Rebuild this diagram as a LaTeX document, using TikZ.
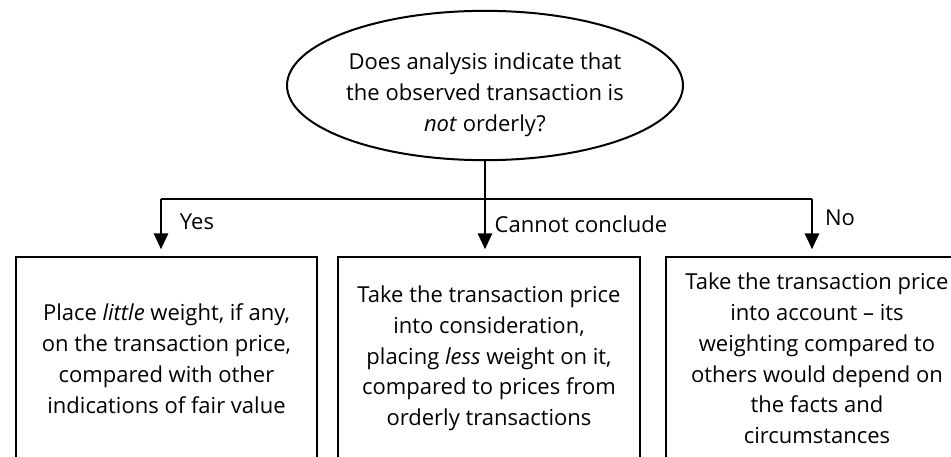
\documentclass[tikz,border=0pt]{standalone}
\usepackage{fontspec}
\setmainfont{Open Sans}
\usepackage{tikz}
\usetikzlibrary{shapes}
\usetikzlibrary{arrows.meta}
\usetikzlibrary{positioning}
\tikzstyle{question}=[ellipse,draw,line width=1.5pt,minimum width=297pt,minimum height=112pt,inner sep=0pt]
\tikzstyle{txt}=[align=center,font=\fontsize{16.5}{23.2}\selectfont]
\tikzstyle{outcome}=[rectangle,draw,line width=1.5pt,minimum width=226pt,minimum height=152pt,anchor=north,align=center,font=\fontsize{16.5}{23.2}\selectfont]
\tikzstyle{branch}=[line width=2.2pt]
\tikzstyle{arr}=[line width=2.2pt,-{Triangle[width=10.5pt,length=12pt]},shorten >=5pt]

\begin{document}
\begin{tikzpicture}[x=0.75pt,y=-0.75pt]
\useasboundingbox (0,0) rectangle (951,457);
\clip (0,0) rectangle (951,457);

%question
\node[question] (q) at (485,85.5) {};
\node[txt] (qtext) at (485,95) {Does analysis indicate that\\the observed transaction is\\\textit{not} orderly?};

%outcome boxes
\node[outcome] (yesbox) at (166.5,256) {Place \textit{little} weight, if any,\\on the transaction price,\\compared with other\\indications of fair value};
\node[outcome] (maybebox) at (489,256) {Take the transaction price\\into consideration,\\placing \textit{less} weight on it,\\compared to prices from\\orderly transactions};
\node[outcome] (nobox) at (817,256) {Take the transaction price\\into account -- its\\weighting compared to\\others would depend on\\the facts and\\circumstances};

%branches
\coordinate (split) at (485,199);
\coordinate (yessplit) at (161,199);
\coordinate (nosplit) at (812,199);
\draw[branch] (q.south) -- (split);
\draw[branch] (yessplit) -- (nosplit);
\draw[arr] (yessplit) -- (yessplit |- yesbox.north);
\draw[arr] (split) -- (split |- maybebox.north);
\draw[arr] (nosplit) -- (nosplit |- nobox.north);

%labels
\node[txt] (yes) at (197,222) {Yes};
\node[txt] (cc) at (581,224) {Cannot conclude};
\node[txt] (no) at (840,218) {No};

\end{tikzpicture}
\end{document}
